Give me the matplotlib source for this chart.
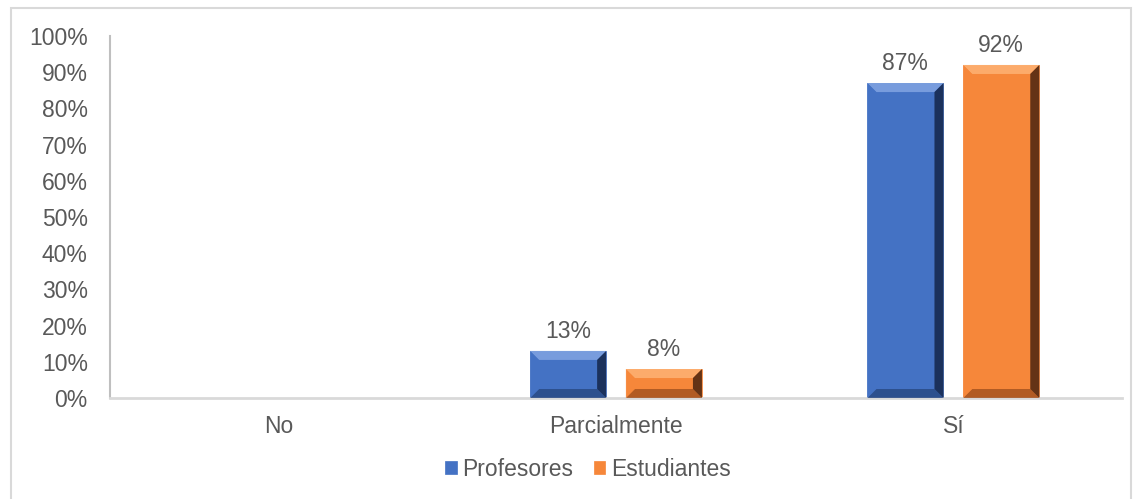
import matplotlib
matplotlib.use("Agg")
import matplotlib.pyplot as plt
from matplotlib.patches import Polygon, Rectangle
import numpy as np

categories = ["No", "Parcialmente", "Sí"]
series_names = ["Profesores", "Estudiantes"]
profesores = [0, 13, 87]
estudiantes = [0, 8, 92]
yticks = [0, 10, 20, 30, 40, 50, 60, 70, 80, 90, 100]
ytick_labels = [f"{v}%" for v in yticks]

colors = ["#4472C4", "#F6873A"]
light = ["#7EA1E0", "#FDB071"]
dark = ["#2A4A85", "#A65420"]
darkest = ["#14264A", "#4A2410"]

plt.rcParams['font.family'] = ['Liberation Sans', 'DejaVu Sans']
txt = "#595959"
fs = 16.5

fig = plt.figure(figsize=(11.4, 4.99), dpi=100)
ax = fig.add_axes([110/1140, 1-398/499, (1122-110)/1140, (398-36)/499])

# figure border
fig.patches.append(Rectangle((11/1140, -0.01), (1131-11)/1140, (499-8)/499 + 0.01,
                             transform=fig.transFigure, fill=False,
                             edgecolor="#D9D9D9", linewidth=1.5))

x = np.arange(len(categories))
w = 0.2255
off = 0.142
bars = []
for i, (vals, c) in enumerate(zip([profesores, estudiantes], colors)):
    b = ax.bar(x + (i*2-1)*off, vals, width=w, color=c, label=series_names[i],
               edgecolor=c, linewidth=0.5, zorder=2)
    bars.append(b)

ax.set_xlim(-0.5, 2.5)
ax.set_ylim(0, 100)
ax.set_yticks(yticks)
ax.set_yticklabels(ytick_labels)
ax.set_xticks(x)
ax.set_xticklabels(categories)
ax.tick_params(axis='both', length=0, labelsize=fs, colors=txt)
ax.tick_params(axis='y', pad=16)
ax.tick_params(axis='x', pad=12)
for s in ["top", "right"]:
    ax.spines[s].set_visible(False)
ax.spines["left"].set_color("#BFBFBF")
ax.spines["left"].set_linewidth(1.5)
ax.spines["bottom"].set_color("#D9D9D9")
ax.spines["bottom"].set_linewidth(2)

# bevel effect
fig.canvas.draw()
inv = ax.transData.inverted()
bev_px = 9
for i, b in enumerate(bars):
    for p in b.patches:
        h = p.get_height()
        if h <= 0:
            continue
        x0, y0 = p.get_x(), p.get_y()
        x1, y1 = x0 + p.get_width(), y0 + h
        (px0, py0) = ax.transData.transform((x0, y0))
        (px1, py1) = ax.transData.transform((x1, y1))
        bv = min(bev_px, (py1 - py0) / 2.5)
        def d(px, py):
            return inv.transform((px, py))
        outer = [d(px0, py0), d(px1, py0), d(px1, py1), d(px0, py1)]
        inner = [d(px0+bv, py0+bv), d(px1-bv, py0+bv), d(px1-bv, py1-bv), d(px0+bv, py1-bv)]
        ax.add_patch(Polygon([outer[3], outer[2], inner[2], inner[3]], closed=True,
                             facecolor=light[i], edgecolor='none', zorder=3, alpha=0.9))
        ax.add_patch(Polygon([outer[0], outer[1], inner[1], inner[0]], closed=True,
                             facecolor=dark[i], edgecolor='none', zorder=3, alpha=0.85))
        ax.add_patch(Polygon([outer[1], outer[2], inner[2], inner[1]], closed=True,
                             facecolor=darkest[i], edgecolor='none', zorder=3, alpha=0.85))
        ax.add_patch(Polygon([outer[0], outer[3], inner[3], inner[0]], closed=True,
                             facecolor=colors[i], edgecolor='none', zorder=3, alpha=0.6))
    for p, v in zip(b.patches, [profesores, estudiantes][i]):
        if v > 0:
            ax.annotate(f"{v}%", (p.get_x() + p.get_width()/2, v),
                        xytext=(0, 6), textcoords="offset points",
                        ha="center", va="bottom", fontsize=fs, color=txt)

fig.legend(handles=[bars[0], bars[1]], labels=series_names, loc="center",
           bbox_to_anchor=(588/1140, 1-469/499), ncol=2, frameon=False,
           fontsize=fs, labelcolor=txt, handlelength=0.5, handleheight=0.5,
           handletextpad=0.25, columnspacing=0.9)

fig.savefig("out.png", dpi=100)
